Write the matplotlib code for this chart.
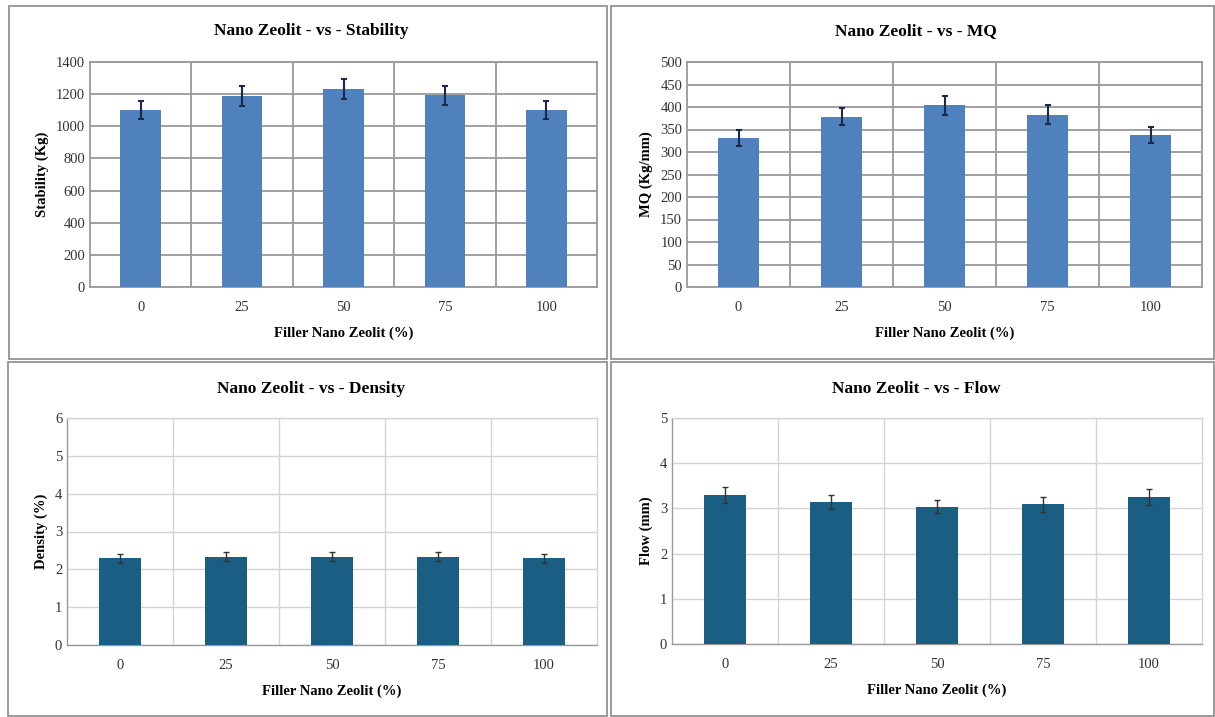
import matplotlib
matplotlib.use("Agg")
import matplotlib.pyplot as plt
from matplotlib.patches import Rectangle

plt.rcParams['font.family'] = ['Liberation Serif', 'DejaVu Serif']

# data
categories = ["0", "25", "50", "75", "100"]

stability = [1100, 1187, 1233, 1192, 1100]
stability_err = [57, 62, 63, 59, 56]

mq = [332, 378, 404, 383, 337]
mq_err = [18, 19, 21, 21, 18]

density = [2.29, 2.33, 2.33, 2.33, 2.29]
density_err = [0.12, 0.12, 0.12, 0.12, 0.12]

flow = [3.30, 3.14, 3.04, 3.09, 3.26]
flow_err = [0.18, 0.15, 0.14, 0.16, 0.18]

W, H = 1215, 717
fig = plt.figure(figsize=(W / 100, H / 100), dpi=100)
fig.patch.set_facecolor("white")


def px(x0, y0, x1, y1):
    # pixel box -> figure fraction [l, b, w, h]
    return [x0 / W, 1 - y1 / H, (x1 - x0) / W, (y1 - y0) / H]


# panel frames
for (x0, y0, x1, y1) in [(9, 6, 607, 359), (611, 6, 1214, 359),
                         (8, 362, 607, 716), (611, 362, 1214, 716)]:
    fig.patches.append(Rectangle((x0 / W, 1 - y1 / H), (x1 - x0) / W, (y1 - y0) / H,
                                 transform=fig.transFigure, fill=False,
                                 edgecolor="#8a8a8a", linewidth=1.2))


def panel(box, title, title_xy, vals, errs, ylim, step, ylabel, color, gridc, gridw, errc, errw):
    ax = fig.add_axes(px(*box))
    x = list(range(len(categories)))
    ax.bar(x, vals, width=0.4, color=color, zorder=3)
    ax.errorbar(x, vals, yerr=errs, fmt="none", ecolor=errc, elinewidth=errw,
                capsize=2.5, capthick=errw, zorder=4)
    ax.set_xlim(-0.5, len(categories) - 0.5)
    ax.set_ylim(0, ylim)
    ax.set_yticks([i * step for i in range(int(round(ylim / step)) + 1)])
    ax.set_xticks(x)
    ax.set_xticklabels(categories)
    ax.set_xticks([i + 0.5 for i in range(len(categories) - 1)], minor=True)
    ax.grid(axis="y", which="major", color=gridc, linewidth=gridw, zorder=0)
    ax.grid(axis="x", which="minor", color=gridc, linewidth=gridw, zorder=0)
    ax.tick_params(which="both", length=0, labelsize=10.5, labelcolor="#333333")
    ax.tick_params(axis="x", pad=10)
    for s in ax.spines.values():
        s.set_color(gridc)
        s.set_linewidth(gridw)
    ax.spines["bottom"].set_color("#9a9a9a")
    ax.spines["left"].set_color("#9a9a9a")
    ax.set_xlabel("Filler Nano Zeolit (%)", fontsize=10.5, fontweight="bold", labelpad=9)
    ax.set_ylabel(ylabel, fontsize=10.5, fontweight="bold", labelpad=5)
    fig.text(title_xy[0] / W, 1 - title_xy[1] / H, title, ha="center", va="center",
             fontsize=12.5, fontweight="bold")
    return ax


top_col = "#4f81bd"
bot_col = "#1a5e83"

panel((90, 62, 597, 287), "Nano Zeolit - vs - Stability", (311, 31),
      stability, stability_err, 1400, 200, "Stability (Kg)", top_col, "#999999", 1.3, "#1c2a4a", 1.5)
panel((687, 62, 1202, 287), "Nano Zeolit - vs - MQ", (916, 31),
      mq, mq_err, 500, 50, "MQ (Kg/mm)", top_col, "#999999", 1.3, "#1c2a4a", 1.5)
panel((67, 418, 597, 645), "Nano Zeolit - vs - Density", (311, 389),
      density, density_err, 6, 1, "Density (%)", bot_col, "#d4d4d4", 1.0, "#333333", 1.0)
panel((672, 418, 1202, 644), "Nano Zeolit - vs - Flow", (916, 389),
      flow, flow_err, 5, 1, "Flow (mm)", bot_col, "#d4d4d4", 1.0, "#333333", 1.0)

fig.savefig("out.png", dpi=100)
